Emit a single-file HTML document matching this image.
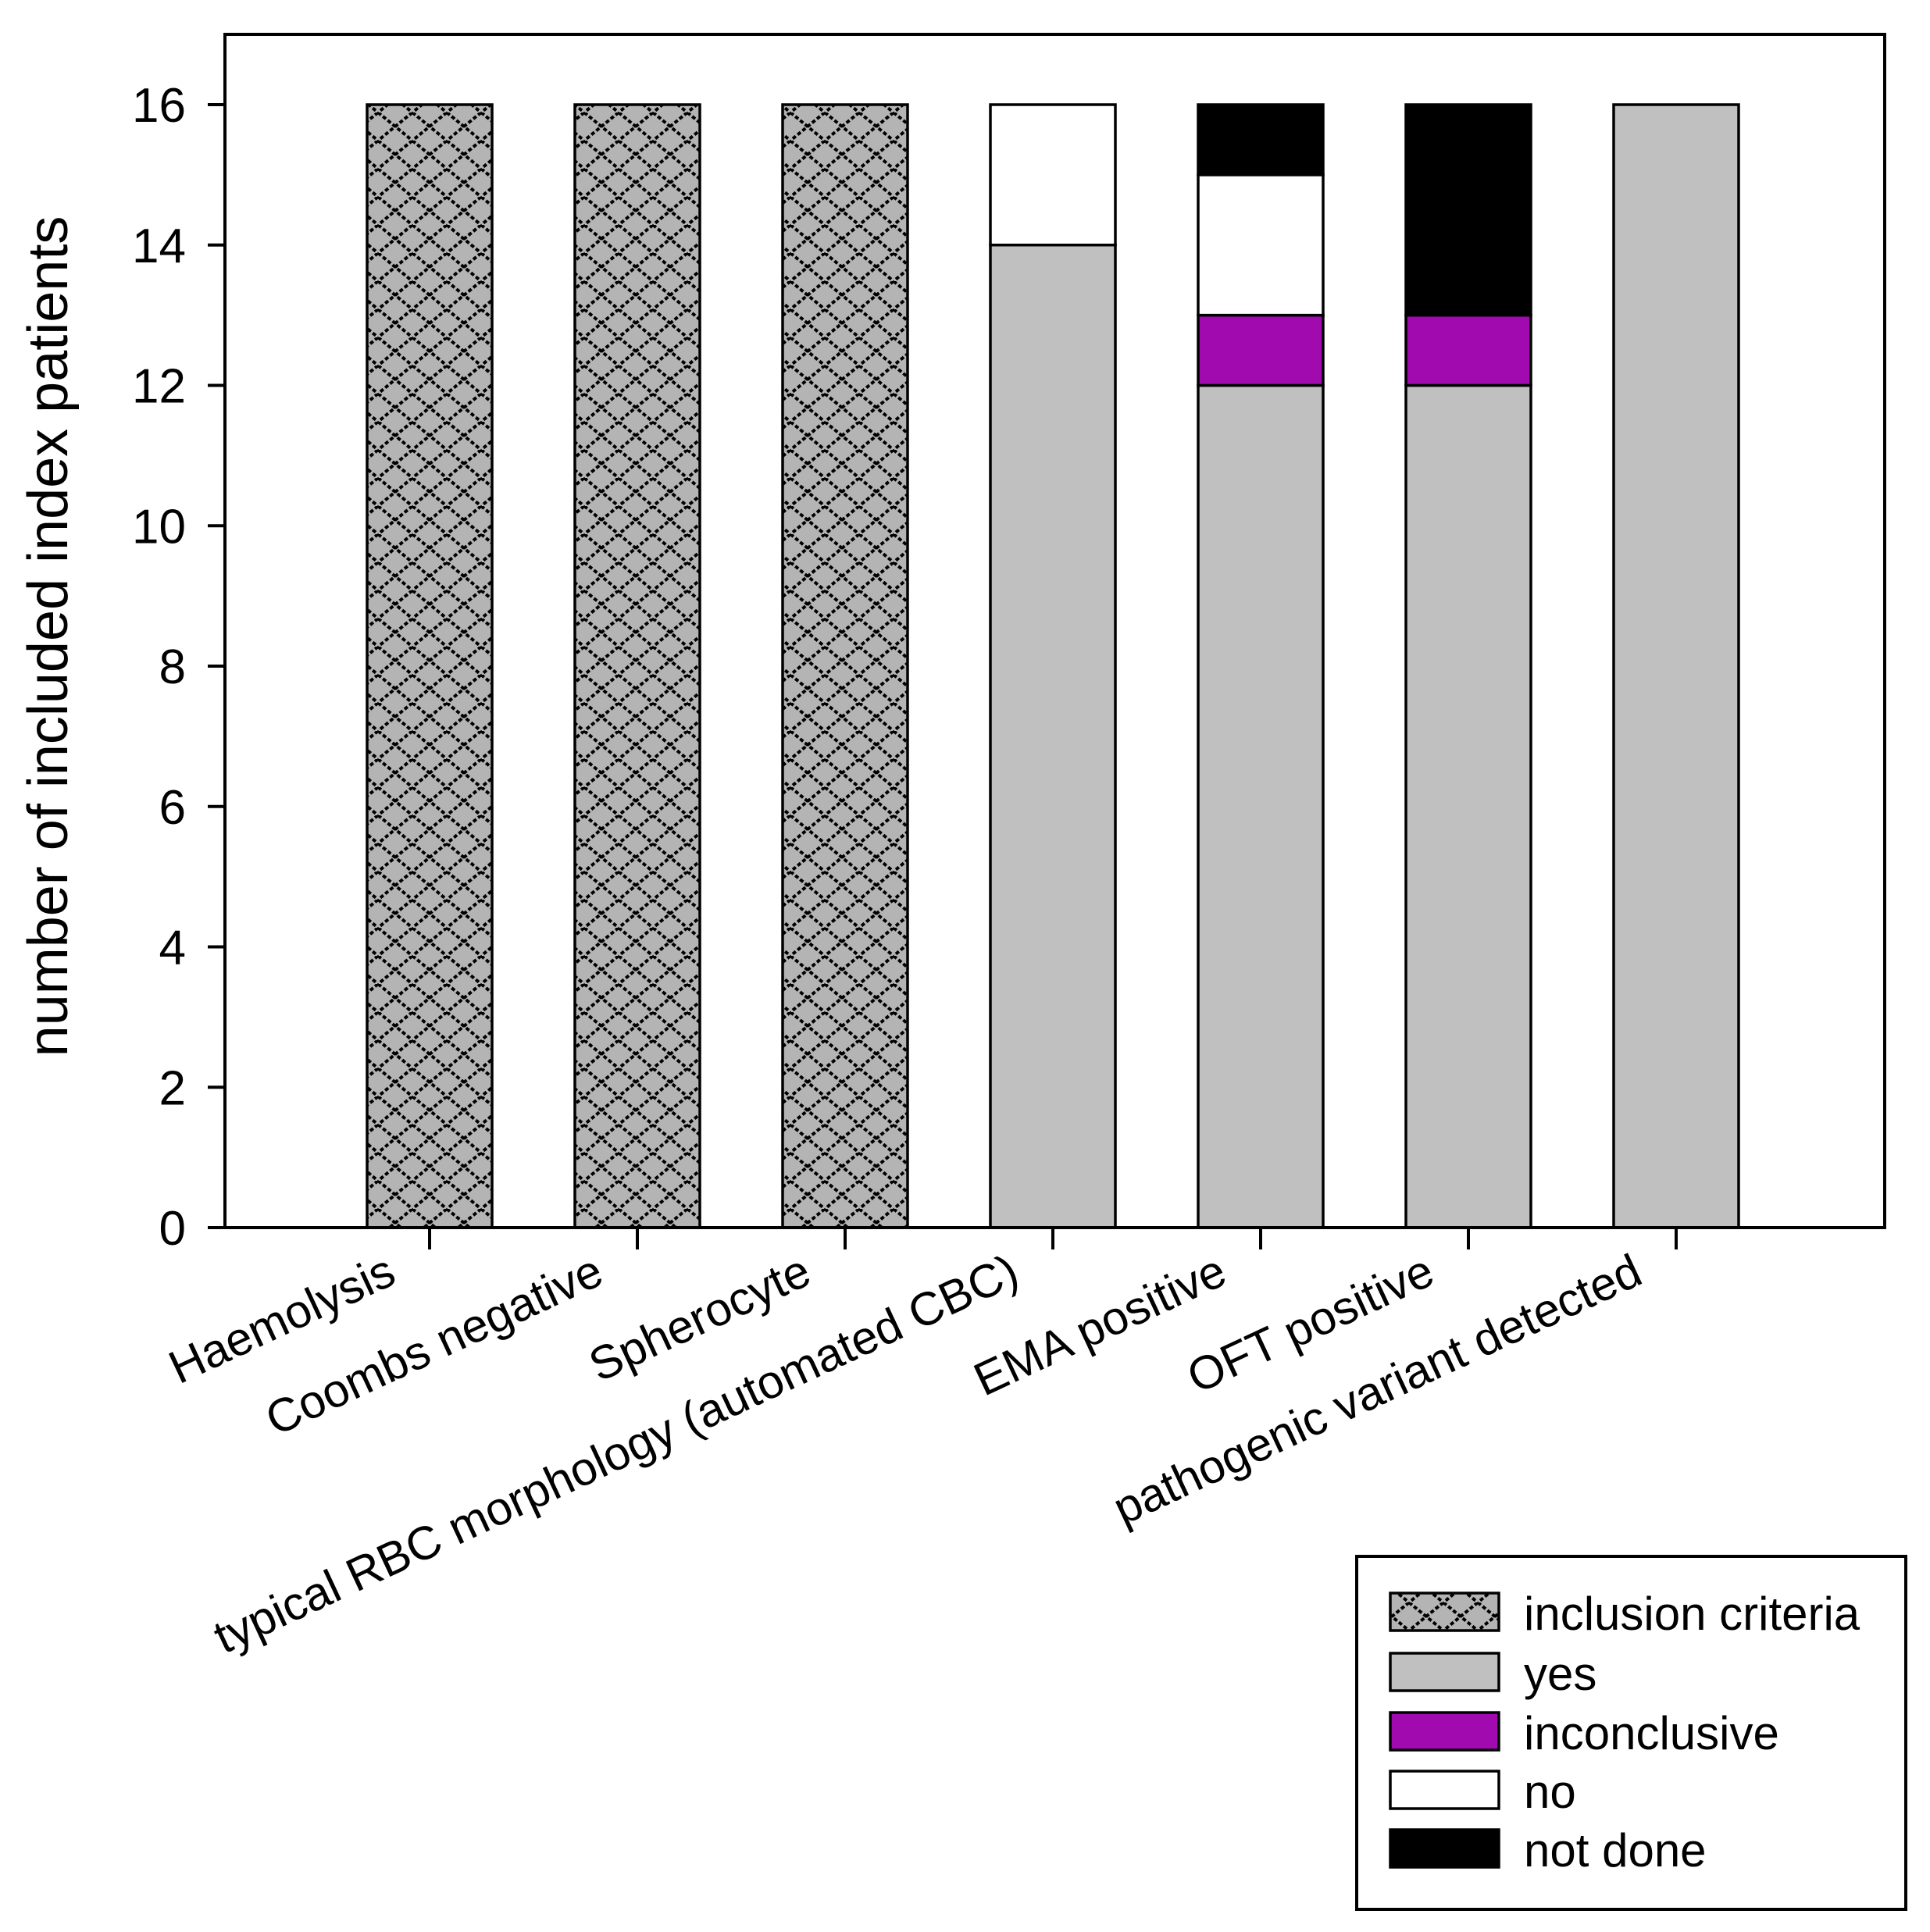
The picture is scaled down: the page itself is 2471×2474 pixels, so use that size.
<!DOCTYPE html>
<html><head><meta charset="utf-8">
<style>
html,body{margin:0;padding:0;background:#fff;}
svg{display:block;font-family:"Liberation Sans",Arial,sans-serif;}
</style></head>
<body>
<svg id="chart" width="2471" height="2474" viewBox="0 0 2471 2474" xmlns="http://www.w3.org/2000/svg">
<defs>
<pattern id="xhatch" patternUnits="userSpaceOnUse" width="44" height="36">
<rect width="44" height="36" fill="#b4b4b4"/>
<path d="M0,0 L44,36 M44,0 L0,36" stroke="#000" stroke-width="4" stroke-dasharray="5,3" fill="none"/>
</pattern>
</defs>
<g id="plot"></g>
</svg>
<script>
const categories = ["Haemolysis","Coombs negative","Spherocyte","typical RBC morphology (automated CBC)","EMA positive","OFT positive","pathogenic variant detected"];
const inclusionVals = [16,16,16,0,0,0,0];
const yesVals = [0,0,0,14,12,12,16];
const inconclusiveVals = [0,0,0,0,1,1,0];
const noVals = [0,0,0,2,2,0,0];
const notDoneVals = [0,0,0,0,1,3,0];
const yTicks = [0,2,4,6,8,10,12,14,16];
const seriesNames = ["inclusion criteria","yes","inconclusive","no","not done"];

const NS = "http://www.w3.org/2000/svg";
const g = document.getElementById('plot');
const L = 288, R = 2413, T = 44, B = 1572;
const y0 = 1572, y16 = 134;
const yScale = v => y0 - (y0 - y16) * v / 16;
const step = 266, first = 550;
const xCenter = i => first + i * step;
const barW = 160;

function mk(tag, attrs, parent){ const e=document.createElementNS(NS,tag); for(const k in attrs) e.setAttribute(k,attrs[k]); (parent||g).appendChild(e); return e; }

const frame = mk('rect',{x:L,y:T,width:R-L,height:B-T,fill:'none',stroke:'#000','stroke-width':4});



const series = [
  {vals:inclusionVals, fill:'url(#xhatch)', key:'inclusion'},
  {vals:yesVals, fill:'#c0c0c0', key:'yes'},
  {vals:inconclusiveVals, fill:'#a00aaf', key:'inconclusive'},
  {vals:noVals, fill:'#ffffff', key:'no'},
  {vals:notDoneVals, fill:'#000000', key:'not-done'}
];
categories.forEach((c,i)=>{
  let base = 0;
  series.forEach(s=>{
    const v = s.vals[i];
    if(v<=0) return;
    const yt = yScale(base+v), yb = yScale(base);
    const r = mk('rect',{x:xCenter(i)-barW/2,y:yt,width:barW,height:yb-yt,fill:s.fill,stroke:'#000','stroke-width':3.5});
    
    
    base += v;
  });
  const tk = mk('line',{x1:xCenter(i),x2:xCenter(i),y1:B,y2:B+28,stroke:'#000','stroke-width':4});
  
  
  const ax = xCenter(i)-40, ay = 1642;
  const t = mk('text',{x:ax,y:ay,'text-anchor':'end','font-size':60,transform:`rotate(-25 ${ax} ${ay})`});
  t.textContent = c;
  
  
});
const xl = mk('line',{x1:L-20,x2:R,y1:B,y2:B,stroke:'#000','stroke-width':4});



yTicks.forEach(v=>{
  const y = yScale(v);
  const tk = mk('line',{x1:L-22,x2:L,y1:y,y2:y,stroke:'#000','stroke-width':4});
  
  
  const t = mk('text',{x:238,y:y+22,'text-anchor':'end','font-size':62});
  t.textContent = v;
  
  
});
const yt = mk('text',{x:86,y:815,'text-anchor':'middle','font-size':72,transform:'rotate(-90 86 815)'});
yt.textContent = 'number of included index patients';



const lg = mk('g',{});


const lbox = mk('rect',{x:1737,y:1993,width:703,height:452,fill:'#fff',stroke:'#000','stroke-width':4},lg);


const lyTop = [2040,2117,2193,2268,2343];
seriesNames.forEach((n,k)=>{
  const e = mk('g',{},lg);
  
  
  mk('rect',{x:1780,y:lyTop[k],width:139,height:48,fill:series[k].fill,stroke:'#000','stroke-width':3.5},e);
  const t = mk('text',{x:1951,y:lyTop[k]+47,'font-size':60},e);
  t.textContent = n;
});
</script>
</body></html>
